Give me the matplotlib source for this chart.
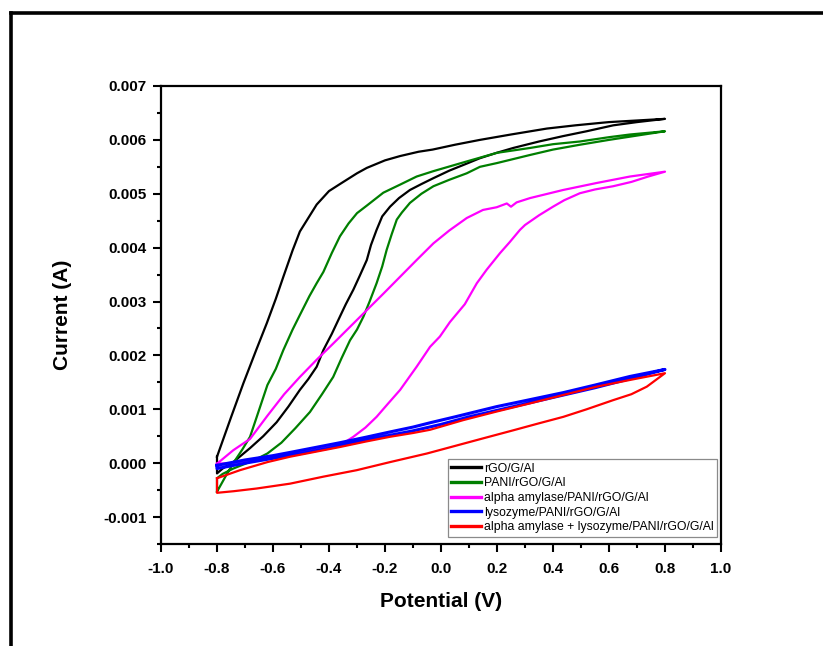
import matplotlib
matplotlib.use("Agg")
import matplotlib.pyplot as plt
import numpy as np
from matplotlib.lines import Line2D
from matplotlib.ticker import MultipleLocator, FormatStrFormatter

plt.rcParams['font.family'] = ['Liberation Sans', 'DejaVu Sans']

# Cyclic voltammograms: each loop = forward branch (-0.8 -> 0.8 V) then reverse branch (0.8 -> -0.8 V)
# Potentials in V, currents in mA (converted to A when plotted)

# rGO/G/Al
rgo_fwd_v = [-0.80, -0.75, -0.706, -0.66, -0.622, -0.59, -0.563, -0.53, -0.504, -0.474, -0.444, -0.40,
             -0.361, -0.30, -0.265, -0.20, -0.146, -0.08, -0.03, 0.05, 0.139, 0.25, 0.378, 0.48, 0.579,
             0.60, 0.70, 0.80]
rgo_fwd_i = [0.12, 0.85, 1.48, 2.10, 2.60, 3.05, 3.46, 3.95, 4.30, 4.55, 4.80, 5.05,
             5.18, 5.38, 5.48, 5.62, 5.70, 5.78, 5.82, 5.91, 6.00, 6.10, 6.21, 6.27, 6.32,
             6.33, 6.36, 6.39]
rgo_rev_v = [0.70, 0.615, 0.52, 0.436, 0.35, 0.258, 0.199, 0.139, 0.092, 0.03, -0.027, -0.07, -0.111,
             -0.15, -0.182, -0.21, -0.230, -0.25, -0.265, -0.29, -0.313, -0.34, -0.361, -0.39, -0.420,
             -0.444, -0.474, -0.504, -0.545, -0.587, -0.635, -0.682, -0.742, -0.78, -0.80]
rgo_rev_i = [6.33, 6.27, 6.16, 6.07, 5.97, 5.85, 5.76, 5.66, 5.56, 5.43, 5.29, 5.18, 5.07,
             4.92, 4.76, 4.58, 4.33, 4.05, 3.77, 3.48, 3.22, 2.95, 2.72, 2.40, 2.10,
             1.79, 1.56, 1.36, 1.05, 0.76, 0.50, 0.28, 0.02, -0.10, -0.19]

# PANI/rGO/G/Al
pani_fwd_v = [-0.80, -0.77, -0.742, -0.71, -0.682, -0.658, -0.62, -0.59, -0.563, -0.53, -0.504, -0.47,
              -0.444, -0.42, -0.39, -0.361, -0.33, -0.30, -0.265, -0.206, -0.146, -0.087, -0.027, 0.092,
              0.20, 0.318, 0.40, 0.496, 0.60, 0.675, 0.80]
pani_fwd_i = [-0.53, -0.25, 0.0, 0.25, 0.49, 0.86, 1.45, 1.75, 2.10, 2.48, 2.75, 3.10,
              3.34, 3.55, 3.90, 4.21, 4.45, 4.64, 4.78, 5.02, 5.17, 5.32, 5.42, 5.60,
              5.76, 5.85, 5.92, 5.97, 6.05, 6.10, 6.16]
pani_rev_v = [0.70, 0.60, 0.496, 0.40, 0.318, 0.20, 0.139, 0.092, 0.03, -0.027, -0.07, -0.111, -0.14,
              -0.158, -0.176, -0.194, -0.21, -0.230, -0.255, -0.277, -0.30, -0.325, -0.355, -0.385,
              -0.425, -0.468, -0.52, -0.57, -0.62, -0.665, -0.742, -0.78, -0.80]
pani_rev_i = [6.08, 6.00, 5.91, 5.82, 5.72, 5.57, 5.50, 5.38, 5.26, 5.14, 5.00, 4.83, 4.65,
              4.52, 4.25, 3.96, 3.65, 3.34, 3.00, 2.72, 2.48, 2.28, 1.95, 1.60,
              1.28, 0.95, 0.65, 0.38, 0.18, 0.06, -0.10, -0.20, -0.28]

# alpha amylase/PANI/rGO/G/Al
amy_fwd_v = [-0.80, -0.742, -0.682, -0.62, -0.56, -0.504, -0.444, -0.385, -0.325, -0.265, -0.205,
             -0.146, -0.087, -0.027, 0.03, 0.092, 0.15, 0.199, 0.235, 0.25, 0.27, 0.318, 0.436, 0.556,
             0.675, 0.80]
amy_fwd_i = [-0.01, 0.24, 0.45, 0.88, 1.28, 1.60, 1.92, 2.22, 2.53, 2.84, 3.15,
             3.46, 3.77, 4.08, 4.32, 4.55, 4.70, 4.75, 4.82, 4.76, 4.84, 4.92, 5.07, 5.20,
             5.32, 5.41]
amy_rev_v = [0.74, 0.68, 0.615, 0.55, 0.496, 0.44, 0.40, 0.35, 0.30, 0.282, 0.245, 0.211, 0.163,
             0.128, 0.085, 0.032, -0.004, -0.039, -0.087, -0.146, -0.19, -0.230, -0.27, -0.313,
             -0.349, -0.45, -0.55, -0.65, -0.75, -0.80]
amy_rev_i = [5.32, 5.22, 5.14, 5.08, 5.01, 4.88, 4.76, 4.60, 4.42, 4.33, 4.10, 3.90, 3.59,
             3.34, 2.95, 2.62, 2.35, 2.16, 1.79, 1.36, 1.10, 0.86, 0.66, 0.49,
             0.37, 0.25, 0.16, 0.08, 0.0, -0.01]

# lysozyme/PANI/rGO/G/Al
lys_fwd_v = [-0.80, -0.70, -0.60, -0.539, -0.45, -0.361, -0.27, -0.182, -0.10, -0.039, 0.05, 0.199,
             0.30, 0.437, 0.55, 0.675, 0.80]
lys_fwd_i = [-0.04, 0.06, 0.14, 0.20, 0.29, 0.38, 0.48, 0.58, 0.67, 0.75, 0.86, 1.05,
             1.16, 1.31, 1.45, 1.61, 1.74]
lys_rev_v = [0.70, 0.55, 0.40, 0.25, 0.10, 0.0, -0.10, -0.20, -0.30, -0.40, -0.50, -0.60, -0.70, -0.80]
lys_rev_i = [1.60, 1.40, 1.22, 1.04, 0.86, 0.72, 0.60, 0.50, 0.39, 0.28, 0.18, 0.09, 0.00, -0.10]

# alpha amylase + lysozyme/PANI/rGO/G/Al
mix_fwd_v = [-0.80, -0.718, -0.62, -0.539, -0.45, -0.361, -0.27, -0.182, -0.10, -0.039, 0.080, 0.20,
             0.318, 0.44, 0.556, 0.68, 0.80]
mix_fwd_i = [-0.28, -0.13, 0.02, 0.12, 0.21, 0.30, 0.40, 0.49, 0.56, 0.62, 0.80, 0.96,
             1.11, 1.27, 1.42, 1.55, 1.67]
mix_rev_v = [0.735, 0.68, 0.615, 0.52, 0.437, 0.35, 0.258, 0.15, 0.05, -0.05, -0.182, -0.301, -0.420,
             -0.539, -0.658, -0.74, -0.80]
mix_rev_i = [1.42, 1.28, 1.17, 1.00, 0.86, 0.74, 0.61, 0.46, 0.32, 0.18, 0.02, -0.13, -0.25,
             -0.38, -0.47, -0.52, -0.55]

series = [
    ("rGO/G/Al", "#000000", rgo_fwd_v, rgo_fwd_i, rgo_rev_v, rgo_rev_i, 1.6),
    ("PANI/rGO/G/Al", "#007f00", pani_fwd_v, pani_fwd_i, pani_rev_v, pani_rev_i, 1.6),
    ("alpha amylase/PANI/rGO/G/Al", "#ff00ff", amy_fwd_v, amy_fwd_i, amy_rev_v, amy_rev_i, 1.6),
    ("lysozyme/PANI/rGO/G/Al", "#0000ff", lys_fwd_v, lys_fwd_i, lys_rev_v, lys_rev_i, 2.2),
    ("alpha amylase + lysozyme/PANI/rGO/G/Al", "#ff0000", mix_fwd_v, mix_fwd_i, mix_rev_v, mix_rev_i, 1.6),
]

W, H = 823, 646
fig = plt.figure(figsize=(W / 100, H / 100), dpi=100)
fig.patch.set_facecolor('white')

ax = fig.add_axes([161 / W, 1 - 544 / H, (721 - 161) / W, (544 - 86) / H])

for label, color, fv, fi, rv, ri, lw in series:
    v = np.concatenate([fv, rv, fv[:1]])
    i = np.concatenate([fi, ri, fi[:1]]) * 1e-3
    ax.plot(v, i, color=color, lw=lw, label=label, solid_joinstyle='round')

ax.set_xlim(-1.0, 1.0)
ax.set_ylim(-0.0015, 0.007)
ax.xaxis.set_major_locator(MultipleLocator(0.2))
ax.xaxis.set_minor_locator(MultipleLocator(0.1))
ax.yaxis.set_major_locator(MultipleLocator(0.001))
ax.yaxis.set_minor_locator(MultipleLocator(0.0005))
ax.xaxis.set_major_formatter(FormatStrFormatter('%.1f'))
ax.yaxis.set_major_formatter(FormatStrFormatter('%.3f'))

for s in ax.spines.values():
    s.set_linewidth(1.6)

ax.tick_params(which='major', direction='out', length=6, width=1.5, labelsize=11)
ax.tick_params(which='minor', direction='out', length=3.2, width=1.5)
ax.tick_params(axis='x', which='major', pad=7)
ax.tick_params(axis='y', which='major', pad=4.5)
ax.tick_params(top=False, right=False, which='both')
for t in ax.get_xticklabels() + ax.get_yticklabels():
    t.set_fontweight('bold')

ax.set_xlabel("Potential (V)", fontsize=15, fontweight='bold')
ax.set_ylabel("Current (A)", fontsize=15, fontweight='bold')
ax.xaxis.set_label_coords(0.5, -(592 - 544) / 458)
ax.xaxis.label.set_va('top')
ax.yaxis.set_label_coords((72 - 161) / 560, 0.5)

leg = ax.legend(loc='lower right', bbox_to_anchor=(0.993, 0.015), borderaxespad=0,
                fontsize=8.8, frameon=True, fancybox=False, framealpha=1,
                edgecolor='#8a8a8a', handlelength=2.45, handletextpad=0.2,
                labelspacing=0.22, borderpad=0.3)
leg.get_frame().set_linewidth(0.9)
for h in leg.get_lines():
    h.set_linewidth(2.4)

# outer frame (left and top edges)
fx = 11 / W
fy = 1 - 12.5 / H
fig.add_artist(Line2D([fx, fx], [0, fy], transform=fig.transFigure, color='black', lw=2.6))
fig.add_artist(Line2D([fx, 1], [fy, fy], transform=fig.transFigure, color='black', lw=2.6,
                      solid_capstyle='projecting'))

fig.savefig("out.png", dpi=100, facecolor='white')
